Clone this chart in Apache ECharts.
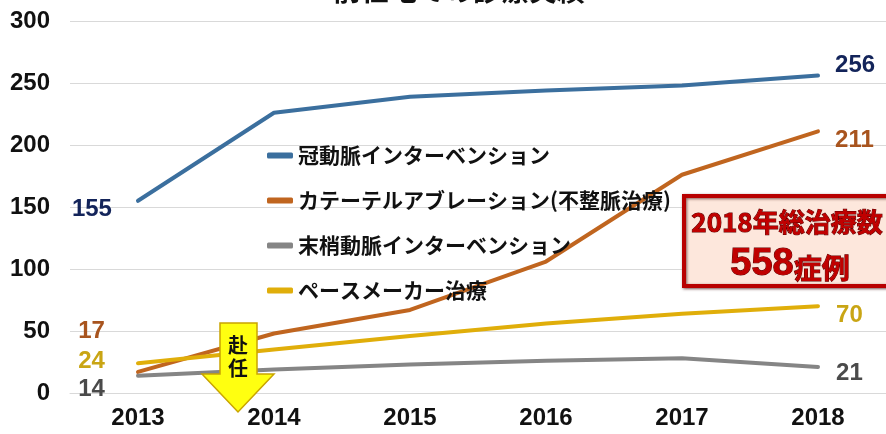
<!DOCTYPE html>
<html><head><meta charset="utf-8">
<script src="https://cdn.jsdelivr.net/npm/echarts@6/dist/echarts.min.js"></script>
<style>html,body{margin:0;padding:0;background:#fff}#c{width:886px;height:434px}</style>
</head><body><div id="c"></div>
<script>
const years = ['2013','2014','2015','2016','2017','2018'];
const yTicks = [0, 50, 100, 150, 200, 250, 300];
const seriesNames = ['冠動脈インターベンション','カテーテルアブレーション(不整脈治療)','末梢動脈インターベンション','ペースメーカー治療'];
const coronary = [155, 226, 239, 244, 248, 256];
const ablation = [17, 48, 67, 106, 176, 211];
const peripheral = [14, 19, 23, 26, 28, 21];
const pacemaker = [24, 35, 46, 56, 64, 70];
const titleText = '前任地での診療実績';
const calloutLine1 = '2018年総治療数';
const calloutTotal = '558';
const calloutUnit = '症例';
const arrowText = ['赴','任'];

const FONT = '"Liberation Sans","Noto Sans CJK JP",sans-serif';
const JP = '"Noto Sans CJK JP",sans-serif';
const colors = ['#3b6f9e','#c0651f','#858585','#e0ae0a'];
const labelColors = ['#13245a','#a8541e','#4a4a4a','#c9a514'];
const place = [
  [{d:26,dy:9},{d:17,dy:-10}],
  [{d:33,dy:-41},{d:17,dy:9}],
  [{d:33,dy:14},{d:18,dy:6}],
  [{d:33,dy:-2},{d:18,dy:9}]
];
const allData = [coronary, ablation, peripheral, pacemaker];

function mkData(arr, i){
  return arr.map((v, k) => {
    if (k === 0 || k === arr.length - 1) {
      const p = place[i][k === 0 ? 0 : 1];
      return {value: v, label: {show: true, position: k === 0 ? 'left' : 'right', distance: p.d, offset: [0, p.dy],
        color: labelColors[i], fontSize: 24, fontWeight: 'bold', fontFamily: FONT, formatter: '{c}'}};
    }
    return v;
  });
}

const chart = echarts.init(document.getElementById('c'));
chart.setOption({
  animation: false,
  backgroundColor: '#fff',
  grid: {left: 70, top: 21, bottom: 41, width: 822, containLabel: false},
  xAxis: {type: 'category', data: years, boundaryGap: true,
    axisLine: {show: true, lineStyle: {color: '#d9d9d9'}}, axisTick: {show: false},
    axisLabel: {color: '#111', fontSize: 24, fontWeight: 'bold', fontFamily: FONT, margin: 13}},
  yAxis: {type: 'value', min: yTicks[0], max: yTicks[yTicks.length-1], interval: 50,
    axisLine: {show: false}, axisTick: {show: false},
    splitLine: {lineStyle: {color: '#d9d9d9', width: 1}},
    axisLabel: {color: '#111', fontSize: 24, fontWeight: 'bold', fontFamily: FONT, margin: 20}},
  legend: {orient: 'vertical', left: 262, top: 140, itemGap: 24, itemWidth: 26, itemHeight: 6,
    icon: 'roundRect', data: seriesNames,
    textStyle: {color: '#111', fontSize: 21, fontWeight: 'bold', fontFamily: JP, lineHeight: 21}},
  series: allData.map((arr, i) => ({
    name: seriesNames[i], type: 'line', data: mkData(arr, i), symbol: 'circle', symbolSize: 0.1, showSymbol: true,
    lineStyle: {color: colors[i], width: 4, cap: 'round', join: 'round'}, itemStyle: {color: colors[i]}, z: 3
  })),
  graphic: [
    {type: 'text', style: {text: titleText, x: 459, y: 4, align: 'center', verticalAlign: 'bottom', fontSize: 28, fontWeight: 'bold', fill: '#111', fontFamily: JP}},
    {type: 'rect', shape: {x: 684, y: 196, width: 210, height: 90}, z: 10,
      style: {fill: '#fde7dc', stroke: '#b80000', lineWidth: 4, shadowColor: 'rgba(60,0,0,0.6)', shadowBlur: 3, shadowOffsetX: 1, shadowOffsetY: 1}},
    {type: 'text', z: 11, style: {text: calloutLine1, x: 787, y: 222, align: 'center', verticalAlign: 'middle',
      fontSize: 26, fontWeight: 'bold', fill: '#c00000', stroke: '#5a0000', lineWidth: 1, fontFamily: JP}},
    {type: 'text', z: 11, style: {text: '{a|' + calloutTotal + '}{b|' + calloutUnit + '}', x: 790, y: 265, align: 'center', verticalAlign: 'middle',
      rich: {a: {fontSize: 38, fontWeight: 'bold', fill: '#c00000', stroke: '#5a0000', lineWidth: 1, fontFamily: FONT},
             b: {fontSize: 28, fontWeight: 'bold', fill: '#c00000', stroke: '#5a0000', lineWidth: 1, fontFamily: JP, padding: [6,0,0,0]}}}},
    {type: 'polygon', z: 10, shape: {points: [[220,323],[257,323],[257,374],[274,374],[238,412],[202,374],[220,374]]},
      style: {fill: '#ffff10', stroke: '#c9a400', lineWidth: 1.5}},
    {type: 'text', z: 11, style: {text: arrowText[0], x: 238, y: 345, align: 'center', verticalAlign: 'middle', fontSize: 20, fontWeight: 'bold', fill: '#111', fontFamily: JP}},
    {type: 'text', z: 11, style: {text: arrowText[1], x: 238, y: 368, align: 'center', verticalAlign: 'middle', fontSize: 20, fontWeight: 'bold', fill: '#111', fontFamily: JP}}
  ]
});
</script></body></html>
